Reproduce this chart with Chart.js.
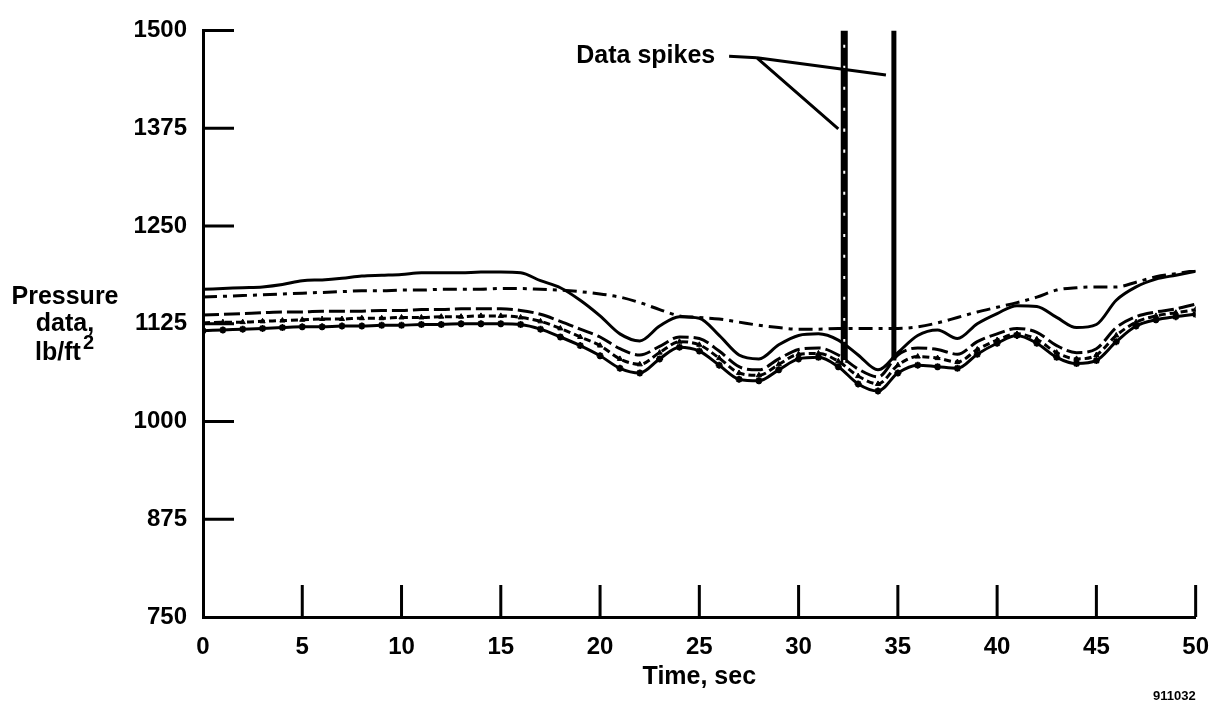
<!DOCTYPE html>
<html>
<head>
<meta charset="utf-8">
<script src="https://cdn.jsdelivr.net/npm/chart.js@4.4.0/dist/chart.umd.min.js"></script>
<style>
  html, body { margin: 0; padding: 0; background: #fff; }
  #wrap { width: 1225px; height: 705px; }
</style>
</head>
<body>
<div id="wrap"><canvas id="pressureChart" width="1225" height="705"></canvas></div>
<script>
// time, sec
const times = [0, 1, 2, 3, 4, 5, 6, 7, 8, 9, 10, 11, 12, 13, 14, 15, 16, 17, 18, 19, 20,
  21, 22, 23, 24, 25, 26, 27, 28, 29, 30, 31, 32, 33, 34, 35, 36, 37, 38, 39, 40,
  41, 42, 43, 44, 45, 46, 47, 48, 49, 50];

// pressure, lb/ft^2
const solidLine = [1169, 1170, 1171, 1172, 1175, 1180, 1181, 1183, 1186, 1187, 1188,
  1190, 1190, 1190, 1191, 1191, 1190, 1180, 1171, 1155, 1135,
  1112, 1103, 1122, 1134, 1132, 1110, 1085, 1080, 1098, 1110,
  1112, 1104, 1085, 1066, 1088, 1110, 1117, 1106, 1125, 1138,
  1148, 1147, 1133, 1120, 1124, 1155, 1172, 1182, 1187, 1192];
const dashDotLine = [1159, 1160, 1161, 1162, 1163, 1164, 1165, 1166, 1167, 1167, 1168,
  1168, 1169, 1169, 1169, 1170, 1170, 1169, 1168, 1166, 1163,
  1159, 1152, 1143, 1135, 1133, 1131, 1127, 1123, 1120, 1118,
  1118, 1119, 1119, 1119, 1119, 1121, 1126, 1133, 1140, 1146,
  1152, 1159, 1168, 1171, 1172, 1172, 1178, 1185, 1189, 1193];
const longDashLine = [1136, 1137, 1138, 1139, 1140, 1140, 1141, 1141, 1141, 1142, 1142,
  1143, 1143, 1144, 1144, 1144, 1142, 1137, 1128, 1118, 1108,
  1093, 1085, 1096, 1108, 1106, 1090, 1070, 1066, 1080, 1092,
  1094, 1085, 1067, 1057, 1085, 1094, 1092, 1086, 1102, 1112,
  1119, 1114, 1097, 1088, 1093, 1120, 1134, 1140, 1144, 1150];
const shortDashLine = [1126, 1127, 1127, 1128, 1129, 1130, 1131, 1131, 1132, 1132, 1133,
  1133, 1134, 1134, 1135, 1135, 1133, 1128, 1119, 1108, 1097,
  1080, 1073, 1088, 1102, 1098, 1081, 1062, 1059, 1073, 1086,
  1087, 1077, 1058, 1048, 1072, 1083, 1081, 1076, 1092, 1104,
  1112, 1105, 1088, 1080, 1085, 1110, 1127, 1135, 1139, 1143];
const noisyLine = [1116, 1117, 1118, 1119, 1120, 1121, 1121, 1122, 1122, 1123, 1123,
  1124, 1124, 1125, 1125, 1125, 1124, 1118, 1108, 1097, 1084,
  1068, 1062, 1080, 1095, 1090, 1072, 1054, 1052, 1066, 1080,
  1082, 1070, 1048, 1039, 1062, 1072, 1070, 1068, 1086, 1100,
  1110, 1100, 1082, 1074, 1078, 1102, 1122, 1130, 1134, 1137];

// the two data spikes: time, foot of the spike, top of the spike
const spikeTimes = [32.3, 34.8];
const spikeFoot = [1075, 1078];
const spikeTop = 1500;

const xTicks = [0, 5, 10, 15, 20, 25, 30, 35, 40, 45, 50];
const yTicks = [750, 875, 1000, 1125, 1250, 1375, 1500];

// callout "Data spikes": label anchor and leader line ends (time, pressure)
const calloutLabel = [25.8, 1467];
const calloutJoint = [[26.5, 1467], [27.9, 1465]];
const calloutEnds = [[34.4, 1443], [32.0, 1374]];

const FONT = '"Liberation Sans", Arial, Helvetica, sans-serif';

function pts(vals) {
  return times.map((t, i) => ({ x: t, y: vals[i] }));
}
function spike(i) {
  return [{ x: spikeTimes[i], y: spikeFoot[i] }, { x: spikeTimes[i], y: spikeTop }];
}

const lineBase = {
  borderColor: "#000",
  backgroundColor: "#000",
  borderWidth: 3,
  pointRadius: 0,
  tension: 0.4,
  cubicInterpolationMode: "monotone",
  fill: false,
};

// tick marks drawn inward from the axes
const innerTicks = {
  id: "innerTicks",
  beforeDatasetsDraw(chart) {
    const { ctx, chartArea, scales } = chart;
    ctx.save();
    ctx.strokeStyle = "#000";
    ctx.lineWidth = 3;
    ctx.beginPath();
    yTicks.forEach((v) => {
      if (v === 750) return;
      const py = scales.y.getPixelForValue(v);
      ctx.moveTo(chartArea.left, py);
      ctx.lineTo(chartArea.left + 31, py);
    });
    xTicks.forEach((v) => {
      if (v === 0) return;
      const px = scales.x.getPixelForValue(v);
      ctx.moveTo(px, chartArea.bottom);
      ctx.lineTo(px, chartArea.bottom - 32);
    });
    ctx.stroke();
    ctx.restore();
  },
};

const labels = {
  id: "labels",
  afterDraw(chart) {
    const { ctx, chartArea, scales } = chart;
    const sx = scales.x, sy = scales.y;
    ctx.save();
    ctx.fillStyle = "#000";
    ctx.strokeStyle = "#000";

    // y axis title
    ctx.font = "bold 25px " + FONT;
    ctx.textAlign = "center";
    ctx.textBaseline = "middle";
    const cy = sy.getPixelForValue(1125);
    ctx.fillText("Pressure", 65, cy - 27);
    ctx.fillText("data,", 65, cy);
    ctx.textAlign = "left";
    const w = ctx.measureText("lb/ft").width;
    ctx.fillText("lb/ft", 65 - (w + 14) / 2, cy + 29);
    ctx.font = "bold 20px " + FONT;
    ctx.fillText("2", 65 - (w + 14) / 2 + w + 2, cy + 20);

    // x axis title
    ctx.font = "bold 25px " + FONT;
    ctx.textAlign = "center";
    ctx.fillText("Time, sec", sx.getPixelForValue(25), chartArea.bottom + 60);

    // figure number
    ctx.font = "bold 13px " + FONT;
    ctx.textAlign = "right";
    ctx.fillText("911032", chartArea.right, chartArea.bottom + 79);

    // callout
    ctx.font = "bold 25px " + FONT;
    ctx.textAlign = "right";
    ctx.fillText("Data spikes", sx.getPixelForValue(calloutLabel[0]), sy.getPixelForValue(calloutLabel[1]));
    ctx.lineWidth = 3;
    ctx.beginPath();
    const j0 = calloutJoint[0], j1 = calloutJoint[1];
    ctx.moveTo(sx.getPixelForValue(j0[0]), sy.getPixelForValue(j0[1]));
    ctx.lineTo(sx.getPixelForValue(j1[0]), sy.getPixelForValue(j1[1]));
    calloutEnds.forEach((e) => {
      ctx.moveTo(sx.getPixelForValue(j1[0]), sy.getPixelForValue(j1[1]));
      ctx.lineTo(sx.getPixelForValue(e[0]), sy.getPixelForValue(e[1]));
    });
    ctx.stroke();
    ctx.restore();
  },
};

new Chart(document.getElementById("pressureChart").getContext("2d"), {
  type: "line",
  data: {
    datasets: [
      { ...lineBase, label: "solid", data: pts(solidLine) },
      { ...lineBase, label: "dash-dot", data: pts(dashDotLine), borderDash: [14, 6, 4, 6] },
      { ...lineBase, label: "long dash", data: pts(longDashLine), borderDash: [16, 5] },
      { ...lineBase, label: "short dash", data: pts(shortDashLine), borderDash: [7, 4],
        pointRadius: 3, pointStyle: "triangle", pointBorderWidth: 1 },
      { ...lineBase, label: "noisy", data: pts(noisyLine),
        pointRadius: 3.5, pointStyle: "star", pointBorderWidth: 2 },
      { ...lineBase, label: "spike 1", data: spike(0), borderWidth: 7, tension: 0 },
      { ...lineBase, label: "spike 1 gaps", data: spike(0), borderWidth: 2, tension: 0,
        borderColor: "#fff", borderDash: [3, 18], order: -1 },
      { ...lineBase, label: "spike 2", data: spike(1), borderWidth: 5, tension: 0 },
    ],
  },
  options: {
    responsive: false,
    animation: false,
    layout: { padding: { top: 17, right: 18, left: 0, bottom: 0 } },
    plugins: {
      legend: { display: false },
      tooltip: { enabled: false },
    },
    scales: {
      x: {
        type: "linear",
        min: 0,
        max: 50,
        afterFit: (s) => { s.height = 88; },
        afterBuildTicks: (s) => { s.ticks = xTicks.map((v) => ({ value: v })); },
        grid: { display: false, drawTicks: false },
        border: { display: true, color: "#000", width: 3 },
        ticks: {
          color: "#000", padding: 16, maxRotation: 0,
          font: { family: FONT, size: 24, weight: "bold" },
          callback: (v) => String(v),
        },
      },
      y: {
        type: "linear",
        min: 750,
        max: 1500,
        afterFit: (s) => { s.width = 203; },
        afterBuildTicks: (s) => { s.ticks = yTicks.map((v) => ({ value: v })); },
        grid: { display: false, drawTicks: false },
        border: { display: true, color: "#000", width: 3 },
        ticks: {
          color: "#000", padding: 16,
          font: { family: FONT, size: 24, weight: "bold" },
          callback: (v) => String(v),
        },
      },
    },
  },
  plugins: [innerTicks, labels],
});
</script>
</body>
</html>
